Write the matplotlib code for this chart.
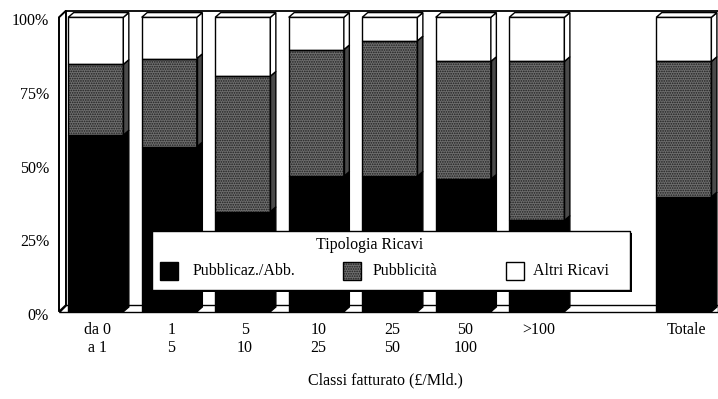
import matplotlib
matplotlib.use("Agg")
import matplotlib.pyplot as plt
from matplotlib.patches import Polygon, Rectangle
from matplotlib import transforms as mtransforms

# ---- data -------------------------------------------------------------
categories = ["da 0\na 1", "1\n5", "5\n10", "10\n25", "25\n50", "50\n100", ">100", "Totale"]
positions = [0, 1, 2, 3, 4, 5, 6, 8]
series_names = ["Pubblicaz./Abb.", "Pubblicità", "Altri Ricavi"]
pubblicaz_abb = [60, 56, 34, 46, 46, 45, 31, 39]
pubblicita = [24, 30, 46, 43, 46, 40, 54, 46]
altri_ricavi = [16, 14, 20, 11, 8, 15, 15, 15]
y_ticks = [0, 25, 50, 75, 100]
legend_title = "Tipologia Ricavi"
x_title = "Classi fatturato (£/Mld.)"

plt.rcParams["font.family"] = ["Liberation Serif", "DejaVu Serif"]
plt.rcParams["hatch.linewidth"] = 0.8

W, H = 718, 399
fig = plt.figure(figsize=(W / 100, H / 100), dpi=100)
ax = fig.add_axes([59 / W, 87.3 / H, 659 / W, 294.4 / H])
ax.set_xlim(-0.5, 8.465)
ax.set_ylim(0, 100)
ax.axis("off")

BLACK = "#000000"
GREY_FACE = "#6e6e6e"
GREY_DOTS = "#1e1e1e"
GREY_SIDE = "#4a4a4a"
WHITE = "#ffffff"
LW = 1.0

bar_w = 0.75
dx, dy = 0.075, 1.6       # bar depth
dxw, dyw = 0.095, 2.25    # wall depth
x0, x1 = ax.get_xlim()

def poly(pts, fc, z, ec=BLACK, lw=LW, hatch=None):
    p = Polygon(pts, closed=True, facecolor=fc, edgecolor=ec, linewidth=lw,
                zorder=z, clip_on=False, hatch=hatch, joinstyle="miter")
    ax.add_patch(p)
    return p

# floor
poly([(x0, 0), (x1, 0), (x1, dyw), (x0 + dxw, dyw)], WHITE, 1)
# left wall
poly([(x0, 0), (x0 + dxw, dyw), (x0 + dxw, 100 + dyw), (x0, 100)], WHITE, 1, lw=1.4)
# back wall top edge
ax.plot([x0 + dxw, x1], [100 + dyw, 100 + dyw], color=BLACK, lw=1.3,
        clip_on=False, zorder=1)

# stacked bars with a shallow 3-D look
segments = [
    (pubblicaz_abb, BLACK, None),
    (pubblicita, GREY_FACE, "......."),
    (altri_ricavi, WHITE, None),
]
for i, xc in enumerate(positions):
    left = xc - bar_w / 2
    right = xc + bar_w / 2
    base = 0.0
    for values, fc, hatch in segments:
        v = values[i]
        top = base + v
        if hatch:
            ax.bar(xc, v, bottom=base, width=bar_w, color=fc, edgecolor=GREY_DOTS,
                   hatch=hatch, linewidth=0, zorder=3)
            ax.bar(xc, v, bottom=base, width=bar_w, color="none", edgecolor=BLACK,
                   linewidth=LW, zorder=3.1)
            poly([(right, base), (right + dx, base + dy), (right + dx, top + dy),
                  (right, top)], GREY_SIDE, 3)
        else:
            ax.bar(xc, v, bottom=base, width=bar_w, color=fc, edgecolor=BLACK,
                   linewidth=LW, zorder=3)
            poly([(right, base), (right + dx, base + dy), (right + dx, top + dy),
                  (right, top)], fc, 3)
        base = top
    # top face
    poly([(left, base), (right, base), (right + dx, base + dy), (left + dx, base + dy)],
         WHITE, 3.2)

# value axis labels
ytrans = mtransforms.offset_copy(
    mtransforms.blended_transform_factory(ax.transAxes, ax.transData),
    fig=fig, x=0, y=-4, units="dots")
for t in y_ticks:
    ax.text(-0.015, t, f"{t}%", transform=ytrans, ha="right", va="center",
            fontsize=11.5)

# category labels
for xc, lab in zip(positions, categories):
    ax.text(xc + 0.03, -3.4, lab, ha="center", va="top", fontsize=11.5,
            linespacing=1.2)

fig.text(385 / W, 1 - 380 / H, x_title, ha="center", va="center", fontsize=11.5)

# legend box, drawn in pixel units
pix = mtransforms.Affine2D().scale(1 / W, -1 / H).translate(0, 1) + fig.transFigure

def prect(x, y, w, h, fc, ec=BLACK, lw=1.0, z=10, hatch=None, hc=None):
    r = Rectangle((x, y), w, h, transform=pix, facecolor=fc,
                  edgecolor=hc if hc else ec, linewidth=0 if hc else lw,
                  zorder=z, hatch=hatch)
    fig.add_artist(r)
    if hc:
        fig.add_artist(Rectangle((x, y), w, h, transform=pix, facecolor="none",
                                 edgecolor=ec, linewidth=lw, zorder=z + 0.1))

prect(154, 233, 478, 59, BLACK, lw=0, z=9)          # shadow
prect(152, 231, 478, 59, WHITE, lw=1.0, z=10)
fig.text(370, 245, legend_title, transform=pix, ha="center", va="center",
         fontsize=11.5, zorder=11)
swatches = [(160, BLACK, None), (343, GREY_FACE, "......."), (506, WHITE, None)]
text_x = [193, 373, 533]
for (sx, fc, hatch), tx, name in zip(swatches, text_x, series_names):
    if hatch:
        prect(sx, 262, 18, 18, fc, z=11, hatch=hatch, hc=GREY_DOTS)
    else:
        prect(sx, 262, 18, 18, fc, z=11)
    fig.text(tx, 271, name, transform=pix, ha="left", va="center",
             fontsize=11.5, zorder=11)

fig.savefig("out.png", dpi=100)
